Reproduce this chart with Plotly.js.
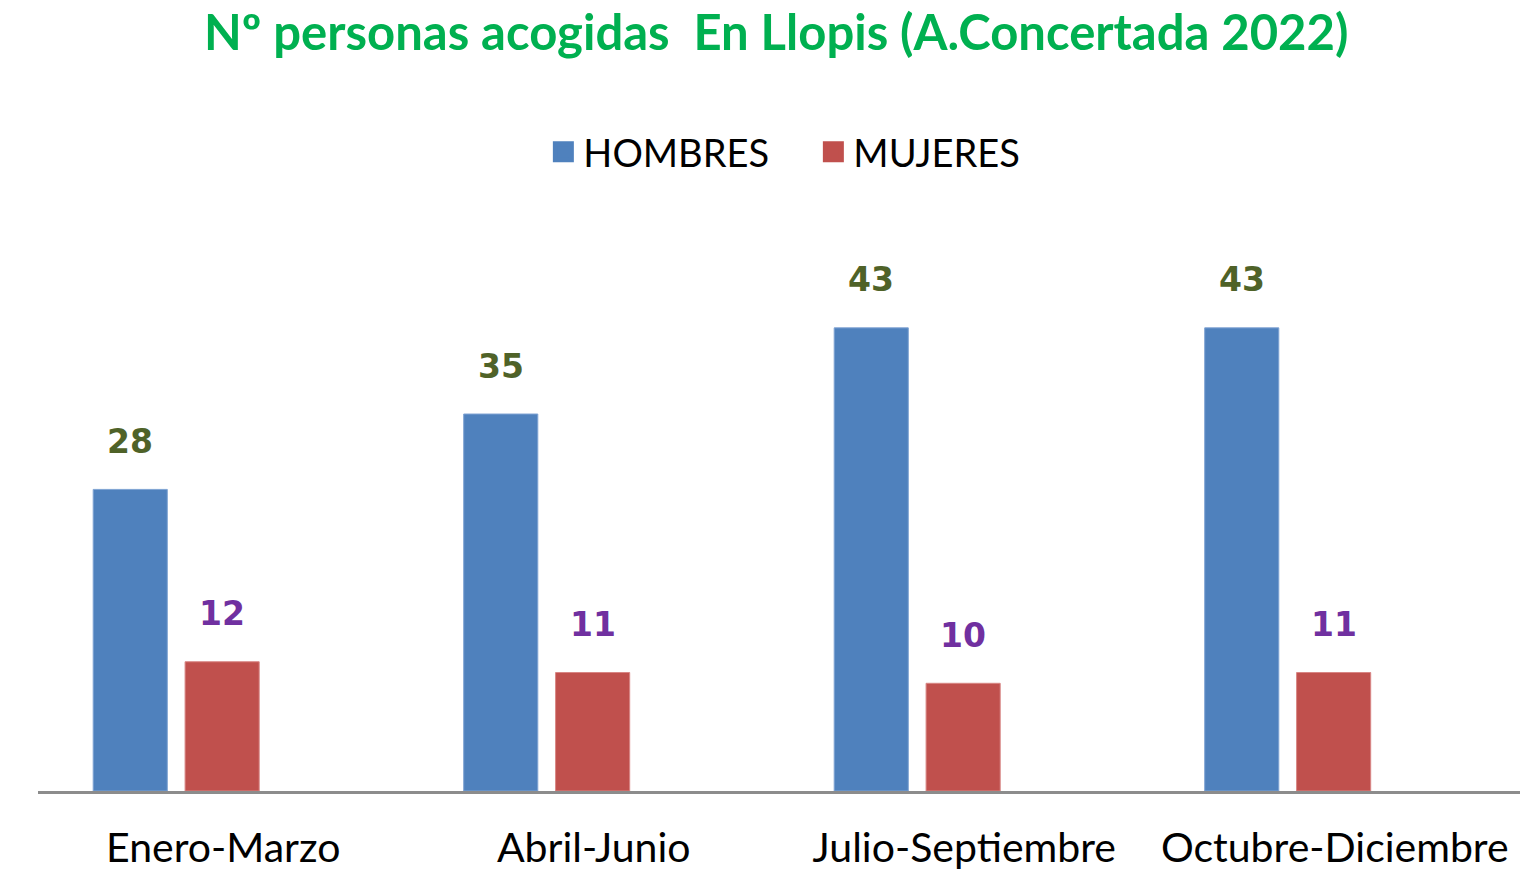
<!DOCTYPE html>
<html>
<head>
<meta charset="utf-8">
<script src="https://cdn.plot.ly/plotly-3.0.1.min.js"></script>
<style>html,body{margin:0;padding:0;background:#fff;}#chart{width:1537px;height:873px;}</style>
</head>
<body>
<div id="chart"></div>
<script>
const categories = ["Enero-Marzo", "Abril-Junio", "Julio-Septiembre", "Octubre-Diciembre"];
const hombres = [28, 35, 43, 43];
const mujeres = [12, 11, 10, 11];
const seriesNames = ["HOMBRES", "MUJERES"];
const seriesColors = ["#4f81bd", "#c0504d"];

const barWidth = 0.2;
const offsetH = -0.351;
const offsetM = -0.103;

const textFont = "Lato, 'Open Sans', sans-serif";

const traces = [
  {type: "bar", name: seriesNames[0], x: categories, y: hombres, width: barWidth, offset: offsetH, showlegend: false,
   marker: {color: seriesColors[0], line: {color: "#7fa3d3", width: 1}}, hoverinfo: "x+y"},
  {type: "bar", name: seriesNames[1], x: categories, y: mujeres, width: barWidth, offset: offsetM, showlegend: false,
   marker: {color: seriesColors[1], line: {color: "#d88684", width: 1}}, hoverinfo: "x+y"},
  // legend entries with larger square swatches
  {type: "scatter", mode: "markers", name: seriesNames[0], x: [null], y: [null], hoverinfo: "skip",
   marker: {symbol: "square", size: 16, color: seriesColors[0], line: {color: seriesColors[0], width: 5}}},
  {type: "scatter", mode: "markers", name: seriesNames[1], x: [null], y: [null], hoverinfo: "skip",
   marker: {symbol: "square", size: 16, color: seriesColors[1], line: {color: seriesColors[1], width: 5}}}
];

const annotations = [];
hombres.forEach((v, i) => annotations.push({x: i + offsetH + barWidth / 2, y: v, xref: "x", yref: "y",
  text: String(v), showarrow: false, yshift: 48, yanchor: "middle",
  font: {family: "'DejaVu Sans', Verdana, sans-serif", size: 33, color: "#4f6228", weight: "bold"}}));
mujeres.forEach((v, i) => annotations.push({x: i + offsetM + barWidth / 2, y: v, xref: "x", yref: "y",
  text: String(v), showarrow: false, yshift: 48, yanchor: "middle",
  font: {family: "'DejaVu Sans', Verdana, sans-serif", size: 33, color: "#7030a0", weight: "bold"}}));

const layout = {
  width: 1537, height: 873,
  paper_bgcolor: "#fff", plot_bgcolor: "#fff",
  margin: {l: 38, r: 17, t: 200, b: 82},
  barmode: "overlay",
  title: {text: "Nº personas acogidas  En Llopis (A.Concertada 2022)", x: 0.505, xanchor: "center", y: 0.962, yanchor: "middle",
          font: {family: textFont, size: 49, color: "#00b050", weight: "bold"}},
  showlegend: true,
  legend: {orientation: "h", x: 0.341, xanchor: "left", y: 1.0 + (200 - 152) / 591, yanchor: "middle",
           font: {family: textFont, size: 38, color: "#000"}, itemwidth: 30, tracegroupgap: 0,
           entrywidth: 225, entrywidthmode: "pixels"},
  xaxis: {type: "category", range: [-0.5, 3.5], showline: true, linecolor: "#8c8c8c", linewidth: 2.5, ticks: "", showgrid: false,
          zeroline: false, ticklabelstandoff: 19, tickfont: {family: textFont, size: 41, color: "#000"}, fixedrange: true},
  yaxis: {range: [0, 54.87], showline: false, showgrid: false, zeroline: false, showticklabels: false, ticks: "", fixedrange: true},
  annotations: annotations
};

Plotly.newPlot("chart", traces, layout, {displayModeBar: false, staticPlot: true});
</script>
</body>
</html>
